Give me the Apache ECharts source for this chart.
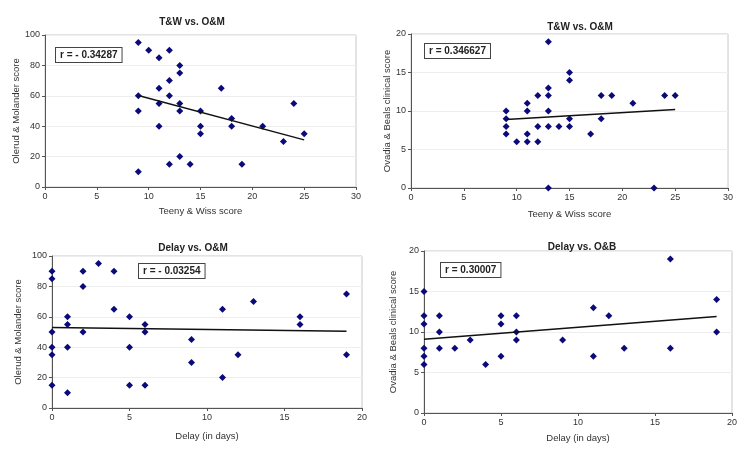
<!DOCTYPE html>
<html>
<head>
<meta charset="utf-8">
<script src="https://cdn.jsdelivr.net/npm/echarts@6/dist/echarts.min.js"></script>
<style>
  html, body { margin: 0; padding: 0; background: #fff; }
  #main { width: 750px; height: 450px; }
</style>
</head>
<body>
<div id="main"></div>
<script>
// panel 1: T&W vs O&M
var tw1X = [9, 10, 12, 11, 13, 13, 12, 11, 17, 9, 12, 11, 13, 24, 9, 13, 15, 18, 11, 15, 18, 21, 15, 25, 23, 13, 12, 14, 19, 9];
var tw1Y = [95, 90, 90, 85, 80, 75, 70, 65, 65, 60, 60, 55, 55, 55, 50, 50, 50, 45, 40, 40, 40, 40, 35, 35, 30, 20, 15, 15, 15, 10];
var trend1 = [[9, 60.2], [25, 31]];

// panel 2: T&W vs O&B
var tw2X = [13, 15, 15, 13, 12, 13, 18, 19, 24, 25, 11, 21, 9, 11, 13, 9, 15, 18, 9, 12, 13, 14, 15, 9, 11, 17, 10, 11, 12, 13, 23];
var tw2Y = [19, 15, 14, 13, 12, 12, 12, 12, 12, 12, 11, 11, 10, 10, 10, 9, 9, 9, 8, 8, 8, 8, 8, 7, 7, 7, 6, 6, 6, 0, 0];
var trend2 = [[9, 8.9], [25, 10.2]];

// panel 3: Delay vs O&M
var d3X = [0, 0, 0, 0, 0, 0, 1, 1, 1, 1, 2, 2, 2, 3, 4, 4, 5, 5, 5, 6, 6, 6, 9, 9, 11, 11, 12, 13, 16, 16, 19, 19];
var d3Y = [90, 85, 50, 40, 35, 15, 60, 55, 40, 10, 90, 80, 50, 95, 90, 65, 60, 40, 15, 55, 50, 15, 45, 30, 65, 20, 35, 70, 60, 55, 75, 35];
var trend3 = [[0, 53], [19, 50.5]];

// panel 4: Delay vs O&B
var d4X = [0, 0, 0, 0, 0, 0, 1, 1, 1, 2, 3, 4, 5, 5, 5, 6, 6, 6, 9, 11, 11, 12, 13, 16, 16, 19, 19];
var d4Y = [15, 12, 11, 8, 7, 6, 12, 10, 8, 8, 9, 6, 12, 11, 7, 12, 10, 9, 9, 13, 7, 12, 8, 19, 8, 14, 10];
var trend4 = [[0, 9.1], [19, 11.9]];

var titles = ['T&W vs. O&M', 'T&W vs. O&M', 'Delay vs. O&M', 'Delay vs. O&B'];
var rLabels = ['r = - 0.34287', 'r = 0.346627', 'r = - 0.03254', 'r = 0.30007'];

function pairs(xs, ys) {
    var out = [];
    for (var i = 0; i < xs.length; i++) out.push([xs[i], ys[i]]);
    return out;
}

var font = 'Liberation Sans, Arial, sans-serif';
var txt = '#333';

var grids = [
    { left: 45, top: 35, width: 311, height: 152 },
    { left: 411, top: 34, width: 317, height: 154 },
    { left: 52, top: 256, width: 310, height: 152 },
    { left: 424, top: 251, width: 308, height: 162 }
];
grids.forEach(function (g) {
    g.show = true;
    g.borderColor = '#c8c8c8';
    g.borderWidth = 1;
    g.backgroundColor = '#fff';
});

function xAxis(idx, max, interval, name, gap) {
    return {
        gridIndex: idx, type: 'value', min: 0, max: max, interval: interval,
        name: name, nameLocation: 'middle', nameGap: gap,
        nameTextStyle: { fontFamily: font, fontSize: 9.5, color: txt },
        axisLine: { show: true, onZero: false, lineStyle: { color: '#555', width: 1 } },
        axisTick: { show: true, length: 3, lineStyle: { color: '#555' } },
        axisLabel: { fontFamily: font, fontSize: 9, color: txt, margin: 5 },
        splitLine: { show: false }
    };
}
function yAxis(idx, max, interval, name, gap) {
    return {
        gridIndex: idx, type: 'value', min: 0, max: max, interval: interval,
        name: name, nameLocation: 'middle', nameGap: gap,
        nameTextStyle: { fontFamily: font, fontSize: 9.5, color: txt },
        axisLine: { show: true, onZero: false, lineStyle: { color: '#555', width: 1 } },
        axisTick: { show: true, length: 3, lineStyle: { color: '#555' } },
        axisLabel: { fontFamily: font, fontSize: 9, color: txt, margin: 5 },
        splitLine: { show: true, lineStyle: { color: '#eeeeee', width: 1 } }
    };
}

function scatter(idx, data) {
    return {
        type: 'scatter', xAxisIndex: idx, yAxisIndex: idx, data: data,
        symbol: 'diamond', symbolSize: 7,
        itemStyle: { color: '#0a0a7a', opacity: 1 }, z: 3
    };
}
function trend(idx, data) {
    return {
        type: 'line', xAxisIndex: idx, yAxisIndex: idx, data: data,
        showSymbol: false, symbol: 'none',
        lineStyle: { color: '#111', width: 1.5 }, z: 4
    };
}

var titlePos = [[187, 12], [575, 17], [188, 238], [577, 237]];
var boxPos = [[55, 47], [424, 43], [138, 263], [440, 262]];

var option = {
    backgroundColor: '#fff',
    animation: false,
    title: titles.map(function (t, i) {
        return {
            text: t, left: titlePos[i][0], top: titlePos[i][1], textAlign: 'center',
            textStyle: { fontFamily: font, fontSize: 10, fontWeight: 'bold', color: '#222' }
        };
    }),
    grid: grids,
    xAxis: [
        xAxis(0, 30, 5, 'Teeny & Wiss score', 19),
        xAxis(1, 30, 5, 'Teeny & Wiss score', 21),
        xAxis(2, 20, 5, 'Delay (in days)', 23),
        xAxis(3, 20, 5, 'Delay (in days)', 20)
    ],
    yAxis: [
        yAxis(0, 100, 20, 'Olerud & Molander score', 22),
        yAxis(1, 20, 5, 'Ovadia & Beals clinical score', 18),
        yAxis(2, 100, 20, 'Olerud & Molander score', 29),
        yAxis(3, 20, 5, 'Ovadia & Beals clinical score', 26)
    ],
    series: [
        scatter(0, pairs(tw1X, tw1Y)), trend(0, trend1),
        scatter(1, pairs(tw2X, tw2Y)), trend(1, trend2),
        scatter(2, pairs(d3X, d3Y)), trend(2, trend3),
        scatter(3, pairs(d4X, d4Y)), trend(3, trend4)
    ],
    graphic: rLabels.map(function (r, i) {
        return {
            type: 'text', left: boxPos[i][0], top: boxPos[i][1], z: 10,
            style: {
                text: r, fontFamily: font, fontSize: 10, fontWeight: 'bold', fill: '#222',
                backgroundColor: '#fff', borderColor: '#444', borderWidth: 1,
                padding: [2, 4, 2, 4]
            }
        };
    })
};

var myChart = echarts.init(document.getElementById('main'));
myChart.setOption(option);
</script>
</body>
</html>
